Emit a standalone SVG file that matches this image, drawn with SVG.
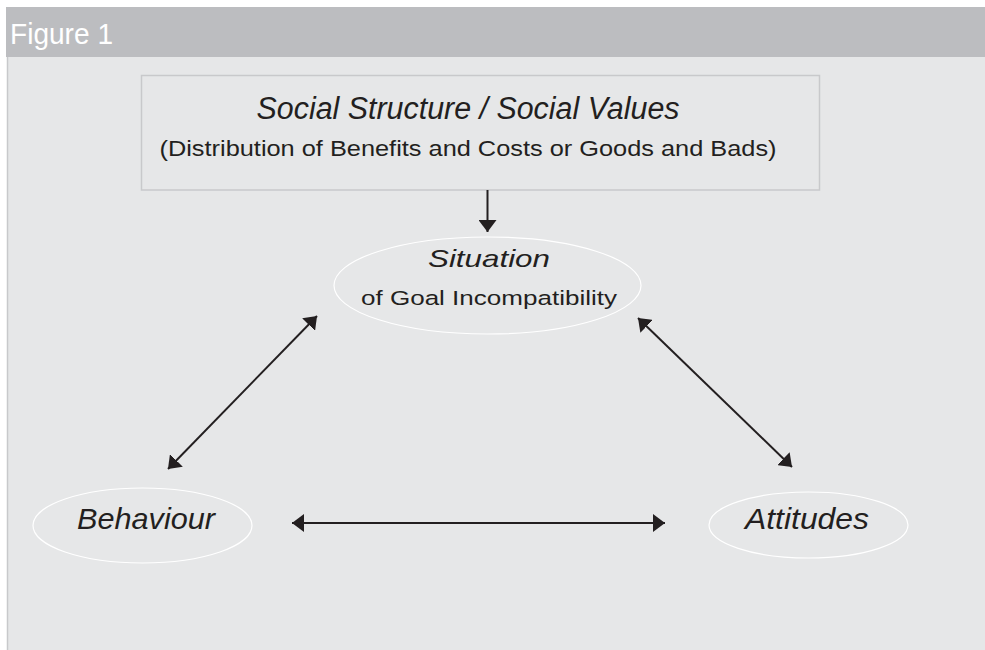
<svg xmlns="http://www.w3.org/2000/svg" width="985" height="650" viewBox="0 0 985 650">
<defs>
<style>
.t{font-family:"Liberation Sans",Arial,sans-serif;fill:#231f20;text-anchor:middle}
.i{font-style:italic}
.ell{fill:none;stroke:#ffffff;stroke-width:1.2}
.ln{stroke:#231f20;stroke-width:2;fill:none}
</style>
<marker id="ah" viewBox="0 0 12 18" refX="12" refY="9" markerWidth="12" markerHeight="18" markerUnits="userSpaceOnUse" orient="auto-start-reverse">
<path d="M0,0 L12,9 L0,18 z" fill="#231f20"/>
</marker>
</defs>
<rect x="0" y="0" width="985" height="650" fill="#ffffff"/>
<rect x="6" y="7" width="979" height="50" fill="#bcbdc0"/>
<rect x="7" y="57" width="978" height="593" fill="#e6e7e8"/>
<line x1="7.5" y1="57" x2="7.5" y2="650" stroke="#c8c9cb" stroke-width="1.5"/>
<text x="10" y="44" font-family="Liberation Sans, Arial, sans-serif" font-size="30" fill="#ffffff" textLength="103" lengthAdjust="spacingAndGlyphs">Figure 1</text>
<g id="social-structure">
<rect x="141.5" y="75.5" width="678" height="114.5" fill="#e6e7e8" stroke="#c8c9cb" stroke-width="1.5"/>
<text class="t i" x="468" y="119" font-size="31" textLength="423" lengthAdjust="spacingAndGlyphs">Social Structure / Social Values</text>
<text class="t" x="468" y="156" font-size="22" textLength="617" lengthAdjust="spacingAndGlyphs">(Distribution of Benefits and Costs or Goods and Bads)</text>
</g>
<g id="situation">
<ellipse class="ell" cx="487.5" cy="285.5" rx="153.5" ry="48.5"/>
<text class="t i" x="489" y="267" font-size="24" textLength="122" lengthAdjust="spacingAndGlyphs">Situation</text>
<text class="t" x="489" y="305" font-size="20.5" textLength="256" lengthAdjust="spacingAndGlyphs">of Goal Incompatibility</text>
</g>
<g id="behaviour">
<ellipse class="ell" cx="142.5" cy="525.5" rx="109.5" ry="37.5"/>
<text class="t i" x="146" y="529" font-size="29" textLength="138" lengthAdjust="spacingAndGlyphs">Behaviour</text>
</g>
<g id="attitudes">
<ellipse class="ell" cx="808.5" cy="525" rx="99.5" ry="33"/>
<text class="t i" x="807" y="529" font-size="29" textLength="124" lengthAdjust="spacingAndGlyphs">Attitudes</text>
</g>
<g id="connectors">
<line class="ln" x1="487.5" y1="190" x2="487.5" y2="232" marker-end="url(#ah)"/>
<line class="ln" x1="317" y1="316" x2="168" y2="469" marker-start="url(#ah)" marker-end="url(#ah)"/>
<line class="ln" x1="638" y1="318" x2="792" y2="467" marker-start="url(#ah)" marker-end="url(#ah)"/>
<line class="ln" x1="292" y1="523" x2="665" y2="523" marker-start="url(#ah)" marker-end="url(#ah)"/>
</g>
</svg>
